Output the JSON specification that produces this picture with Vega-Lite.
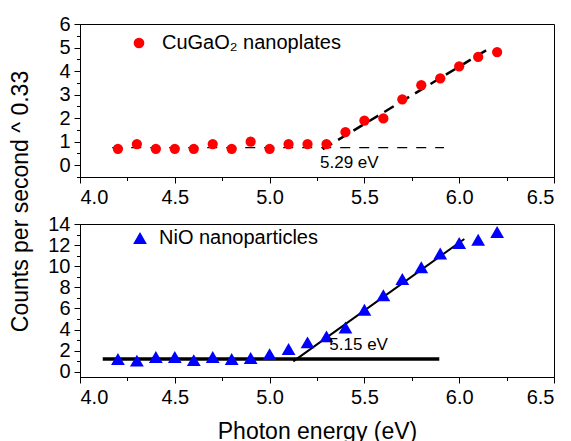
{
  "$schema": "https://vega.github.io/schema/vega-lite/v6.json",
  "padding": {"left": 8, "top": 13, "right": 0, "bottom": 0},
  "bounds": "flush",
  "spacing": 47,
  "background": "white",
  "resolve": {"scale": {"color": "independent", "y": "independent"}, "legend": {"color": "independent"}},
  "config": {
    "view": {"stroke": "black", "strokeWidth": 1},
    "axis": {
      "labelFont": "Liberation Sans", "labelFontSize": 20, "labelColor": "black",
      "titleFont": "Liberation Sans", "titleFontSize": 23, "titleFontWeight": "normal", "titleColor": "black",
      "domainColor": "black", "tickColor": "black", "tickSize": 6, "labelPadding": 4, "grid": false
    },
    "legend": {"labelFont": "Liberation Sans", "labelFontSize": 20, "labelColor": "black", "padding": 0}
  },
  "datasets": {
    "cuga": [
      {"energy": 4.2, "counts": 0.7}, {"energy": 4.3, "counts": 0.9}, {"energy": 4.4, "counts": 0.7},
      {"energy": 4.5, "counts": 0.7}, {"energy": 4.6, "counts": 0.7}, {"energy": 4.7, "counts": 0.9},
      {"energy": 4.8, "counts": 0.7}, {"energy": 4.9, "counts": 1.0}, {"energy": 5.0, "counts": 0.7},
      {"energy": 5.1, "counts": 0.9}, {"energy": 5.2, "counts": 0.9}, {"energy": 5.3, "counts": 0.9},
      {"energy": 5.4, "counts": 1.41}, {"energy": 5.5, "counts": 1.9}, {"energy": 5.6, "counts": 1.99},
      {"energy": 5.7, "counts": 2.8}, {"energy": 5.8, "counts": 3.4}, {"energy": 5.9, "counts": 3.69},
      {"energy": 6.0, "counts": 4.2}, {"energy": 6.1, "counts": 4.6}, {"energy": 6.2, "counts": 4.81}
    ],
    "nio": [
      {"energy": 4.2, "counts": 1.2}, {"energy": 4.3, "counts": 1.05}, {"energy": 4.4, "counts": 1.4},
      {"energy": 4.5, "counts": 1.4}, {"energy": 4.6, "counts": 1.1}, {"energy": 4.7, "counts": 1.4},
      {"energy": 4.8, "counts": 1.2}, {"energy": 4.9, "counts": 1.3}, {"energy": 5.0, "counts": 1.67},
      {"energy": 5.1, "counts": 2.15}, {"energy": 5.2, "counts": 2.78}, {"energy": 5.3, "counts": 3.35},
      {"energy": 5.4, "counts": 4.2}, {"energy": 5.5, "counts": 5.88}, {"energy": 5.6, "counts": 7.24},
      {"energy": 5.7, "counts": 8.79}, {"energy": 5.8, "counts": 9.9}, {"energy": 5.9, "counts": 11.2},
      {"energy": 6.0, "counts": 12.2}, {"energy": 6.1, "counts": 12.5}, {"energy": 6.2, "counts": 13.25}
    ],
    "fits": [
      {"panel": "top", "fit": "base", "energy": 4.17, "counts": 0.75},
      {"panel": "top", "fit": "base", "energy": 5.92, "counts": 0.75},
      {"panel": "top", "fit": "slope", "energy": 5.28, "counts": 0.68},
      {"panel": "top", "fit": "slope", "energy": 6.15, "counts": 4.92},
      {"panel": "bottom", "fit": "base", "energy": 4.12, "counts": 1.2},
      {"panel": "bottom", "fit": "base", "energy": 5.895, "counts": 1.2},
      {"panel": "bottom", "fit": "slope", "energy": 5.125, "counts": 0.98},
      {"panel": "bottom", "fit": "slope", "energy": 6.027, "counts": 12.58}
    ],
    "notes": [
      {"panel": "top", "energy": 5.266, "counts": 0.11, "label": "5.29 eV"},
      {"panel": "bottom", "energy": 5.315, "counts": 2.56, "label": "5.15 eV"}
    ]
  },
  "vconcat": [
    {
      "width": 474, "height": 153,
      "resolve": {"axis": {"x": "independent", "y": "independent"}},
      "layer": [
        {
          "data": {"name": "fits"},
          "transform": [{"filter": "datum.panel === 'top' && datum.fit === 'base'"}],
          "mark": {"type": "line", "color": "black", "strokeWidth": 1.2, "strokeDash": [10, 9]},
          "encoding": {
            "x": {"field": "energy", "type": "quantitative", "scale": {"domain": [4, 6.5], "nice": false, "zero": false},
                  "axis": {"orient": "bottom", "values": [4.25, 4.75, 5.25, 5.75, 6.25], "labels": false, "domain": false, "tickSize": 3.5, "title": null}},
            "y": {"field": "counts", "type": "quantitative", "scale": {"domain": [-0.5, 6], "nice": false, "zero": false},
                  "axis": {"orient": "left", "values": [-0.5, 0.5, 1.5, 2.5, 3.5, 4.5, 5.5], "labels": false, "domain": false, "tickSize": 3.5, "title": null}}
          }
        },
        {
          "data": {"name": "fits"},
          "transform": [{"filter": "datum.panel === 'top' && datum.fit === 'slope'"}],
          "mark": {"type": "line", "color": "black", "strokeWidth": 2.5, "strokeDash": [11, 7]},
          "encoding": {
            "x": {"field": "energy", "type": "quantitative", "axis": null},
            "y": {"field": "counts", "type": "quantitative", "axis": null}
          }
        },
        {
          "data": {"name": "cuga"},
          "transform": [{"calculate": "'CuGaO₂ nanoplates'", "as": "sample"}],
          "mark": {"type": "point", "shape": "circle", "filled": true, "size": 105, "opacity": 1},
          "encoding": {
            "x": {"field": "energy", "type": "quantitative",
                  "axis": {"orient": "bottom", "values": [4, 4.5, 5, 5.5, 6, 6.5], "format": ".1f", "title": null}},
            "y": {"field": "counts", "type": "quantitative",
                  "axis": {"orient": "left", "values": [0, 1, 2, 3, 4, 5, 6], "format": "d",
                           "title": "Counts per second ^ 0.33", "titleX": -60, "titleY": 177,
                           "titleAlign": "center", "titleBaseline": "middle", "titleAngle": -90}},
            "color": {"field": "sample", "type": "nominal", "scale": {"range": ["#ff0000"]},
                      "legend": {"title": null, "orient": "none", "legendX": 49, "legendY": 9, "labelLimit": 400,
                                 "symbolType": "circle", "symbolSize": 115, "symbolStrokeWidth": 0, "labelOffset": 13}}
          }
        },
        {
          "data": {"name": "notes"},
          "transform": [{"filter": "datum.panel === 'top'"}],
          "mark": {"type": "text", "align": "left", "baseline": "middle", "font": "Liberation Sans", "fontSize": 17, "color": "black"},
          "encoding": {
            "x": {"field": "energy", "type": "quantitative", "axis": null},
            "y": {"field": "counts", "type": "quantitative", "axis": null},
            "text": {"field": "label"}
          }
        }
      ]
    },
    {
      "width": 474, "height": 153,
      "resolve": {"axis": {"x": "independent", "y": "independent"}},
      "layer": [
        {
          "data": {"name": "fits"},
          "transform": [{"filter": "datum.panel === 'bottom' && datum.fit === 'base'"}],
          "mark": {"type": "line", "color": "black", "strokeWidth": 3.5},
          "encoding": {
            "x": {"field": "energy", "type": "quantitative", "scale": {"domain": [4, 6.5], "nice": false, "zero": false},
                  "axis": {"orient": "bottom", "values": [4.25, 4.75, 5.25, 5.75, 6.25], "labels": false, "domain": false, "tickSize": 3.5, "title": null}},
            "y": {"field": "counts", "type": "quantitative", "scale": {"domain": [-0.5, 14], "nice": false, "zero": false},
                  "axis": {"orient": "left", "values": [1, 3, 5, 7, 9, 11, 13], "labels": false, "domain": false, "tickSize": 3.5, "title": null}}
          }
        },
        {
          "data": {"name": "fits"},
          "transform": [{"filter": "datum.panel === 'bottom' && datum.fit === 'slope'"}],
          "mark": {"type": "line", "color": "black", "strokeWidth": 2},
          "encoding": {
            "x": {"field": "energy", "type": "quantitative", "axis": null},
            "y": {"field": "counts", "type": "quantitative", "axis": null}
          }
        },
        {
          "data": {"name": "nio"},
          "transform": [{"calculate": "'NiO nanoparticles'", "as": "sample"}],
          "mark": {"type": "point", "shape": "triangle-up", "filled": true, "size": 190, "opacity": 1},
          "encoding": {
            "x": {"field": "energy", "type": "quantitative",
                  "axis": {"orient": "bottom", "values": [4, 4.5, 5, 5.5, 6, 6.5], "format": ".1f",
                           "title": "Photon energy (eV)", "titlePadding": 13}},
            "y": {"field": "counts", "type": "quantitative",
                  "axis": {"orient": "left", "values": [0, 2, 4, 6, 8, 10, 12, 14], "format": "d", "title": null}},
            "color": {"field": "sample", "type": "nominal", "scale": {"range": ["#0000ff"]},
                      "legend": {"title": null, "orient": "none", "legendX": 50, "legendY": 4, "labelLimit": 400,
                                 "symbolType": "triangle-up", "symbolSize": 190, "symbolStrokeWidth": 0, "labelOffset": 9}}
          }
        },
        {
          "data": {"name": "notes"},
          "transform": [{"filter": "datum.panel === 'bottom'"}],
          "mark": {"type": "text", "align": "left", "baseline": "middle", "font": "Liberation Sans", "fontSize": 17, "color": "black"},
          "encoding": {
            "x": {"field": "energy", "type": "quantitative", "axis": null},
            "y": {"field": "counts", "type": "quantitative", "axis": null},
            "text": {"field": "label"}
          }
        }
      ]
    }
  ]
}
